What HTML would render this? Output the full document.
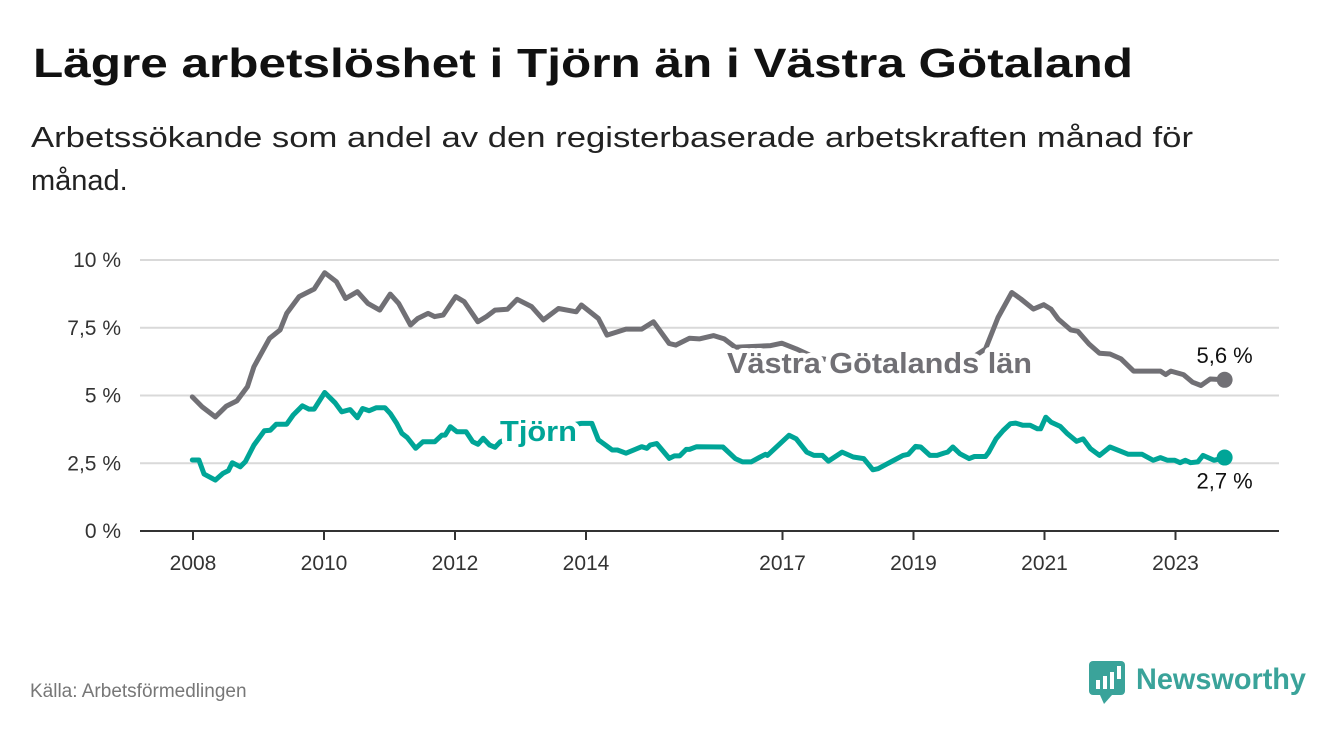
<!DOCTYPE html>
<html><head><meta charset="utf-8"><style>
html,body{margin:0;padding:0;background:#fff;}
svg{display:block;font-family:"Liberation Sans",sans-serif;}
</style></head><body>
<svg id="chart" width="1340" height="734" viewBox="0 0 1340 734">
<text x="33" y="77" font-size="41" font-weight="bold" fill="#111" textLength="1100" lengthAdjust="spacingAndGlyphs">Lägre arbetslöshet i Tjörn än i Västra Götaland</text>
<text x="31" y="147" font-size="29" fill="#222" textLength="1162" lengthAdjust="spacingAndGlyphs">Arbetssökande som andel av den registerbaserade arbetskraften månad för</text>
<text x="31" y="190" font-size="29" fill="#222">månad.</text>
<g id="grid"></g>
<g id="axes"></g>
<g id="series"></g>
<g id="labels"></g>
<text x="30" y="697" font-size="19" fill="#777">Källa: Arbetsförmedlingen</text>
<g>
<rect x="1089" y="661" width="36" height="34" rx="4" fill="#3aa39a"/>
<polygon points="1100,695 1112,695 1104,704" fill="#3aa39a"/>
<rect x="1096" y="680" width="4" height="9" fill="#fff"/><rect x="1103" y="676" width="4" height="13" fill="#fff"/><rect x="1110" y="672" width="4" height="17" fill="#fff"/><rect x="1117" y="666" width="4" height="13" fill="#fff"/>
<text x="1136" y="689" font-size="30" font-weight="bold" fill="#3aa39a" textLength="170" lengthAdjust="spacingAndGlyphs">Newsworthy</text>
</g>
</svg>
<script>
const yTicks = [0, 2.5, 5, 7.5, 10];
const yTickLabels = ["0 %", "2,5 %", "5 %", "7,5 %", "10 %"];
const xTicks = [2008, 2010, 2012, 2014, 2017, 2019, 2021, 2023];
const vgYears = [2007.99,2008.14,2008.34,2008.51,2008.67,2008.83,2008.93,2009.17,2009.33,2009.43,2009.62,2009.85,2010.01,2010.19,2010.33,2010.51,2010.67,2010.85,2011.01,2011.14,2011.32,2011.43,2011.59,2011.69,2011.82,2012.01,2012.14,2012.35,2012.48,2012.61,2012.8,2012.95,2013.17,2013.35,2013.58,2013.85,2013.93,2014.19,2014.32,2014.61,2014.85,2015.03,2015.27,2015.37,2015.58,2015.73,2015.95,2016.11,2016.28,2016.82,2016.99,2017.21,2017.5,2018,2018.5,2019,2019.5,2019.9,2020.1,2020.29,2020.5,2020.64,2020.83,2020.99,2021.1,2021.21,2021.4,2021.51,2021.68,2021.84,2022.0,2022.17,2022.36,2022.77,2022.85,2022.93,2023.12,2023.26,2023.39,2023.53,2023.75];
const vgValues = [4.95,4.58,4.21,4.61,4.8,5.32,6.06,7.11,7.42,8.03,8.65,8.93,9.53,9.2,8.58,8.83,8.4,8.15,8.74,8.4,7.6,7.84,8.03,7.91,7.97,8.65,8.46,7.72,7.91,8.15,8.18,8.55,8.28,7.79,8.21,8.09,8.34,7.84,7.23,7.45,7.45,7.72,6.92,6.86,7.11,7.09,7.21,7.09,6.78,6.84,6.93,6.72,6.4,6.2,6.1,6.1,6.2,6.4,6.72,7.88,8.8,8.56,8.19,8.35,8.19,7.82,7.42,7.37,6.9,6.56,6.53,6.35,5.9,5.9,5.77,5.9,5.77,5.49,5.37,5.61,5.58];
const tjYears = [2007.99,2008.09,2008.17,2008.34,2008.46,2008.54,2008.6,2008.72,2008.8,2008.93,2009.09,2009.18,2009.27,2009.43,2009.53,2009.67,2009.77,2009.85,2010.01,2010.17,2010.27,2010.4,2010.51,2010.59,2010.69,2010.8,2010.93,2011.01,2011.11,2011.19,2011.27,2011.4,2011.51,2011.69,2011.8,2011.85,2011.93,2012.03,2012.17,2012.27,2012.35,2012.43,2012.53,2012.61,2012.69,2012.9,2013.2,2013.5,2013.93,2014.09,2014.19,2014.3,2014.4,2014.48,2014.61,2014.85,2014.93,2014.98,2015.08,2015.27,2015.35,2015.43,2015.53,2015.58,2015.69,2016.09,2016.28,2016.39,2016.52,2016.66,2016.74,2016.77,2017.1,2017.21,2017.37,2017.48,2017.61,2017.7,2017.91,2018.08,2018.24,2018.38,2018.46,2018.84,2018.92,2019.03,2019.11,2019.25,2019.36,2019.47,2019.52,2019.6,2019.71,2019.85,2019.93,2020.1,2020.15,2020.26,2020.37,2020.48,2020.56,2020.67,2020.78,2020.89,2020.94,2021.02,2021.1,2021.24,2021.35,2021.49,2021.59,2021.7,2021.84,2022.0,2022.28,2022.49,2022.66,2022.77,2022.88,2022.99,2023.07,2023.15,2023.23,2023.34,2023.42,2023.59,2023.75];
const tjValues = [2.62,2.62,2.1,1.88,2.13,2.23,2.52,2.37,2.56,3.17,3.7,3.72,3.94,3.94,4.28,4.62,4.5,4.5,5.11,4.73,4.4,4.48,4.18,4.52,4.44,4.55,4.55,4.34,3.97,3.6,3.45,3.05,3.29,3.29,3.54,3.54,3.85,3.66,3.66,3.29,3.2,3.42,3.17,3.09,3.29,3.5,3.7,3.8,3.97,3.97,3.36,3.17,2.99,2.99,2.87,3.11,3.05,3.17,3.23,2.68,2.77,2.77,3.01,3.01,3.11,3.1,2.67,2.55,2.55,2.73,2.83,2.79,3.53,3.4,2.91,2.79,2.79,2.58,2.91,2.73,2.67,2.26,2.3,2.79,2.83,3.12,3.1,2.79,2.79,2.88,2.91,3.1,2.85,2.67,2.75,2.75,2.91,3.4,3.71,3.96,3.98,3.9,3.9,3.77,3.77,4.2,4.02,3.86,3.59,3.31,3.4,3.04,2.79,3.1,2.83,2.83,2.61,2.71,2.61,2.61,2.52,2.61,2.52,2.55,2.79,2.61,2.71];
const vgEndLabel = "5,6 %";
const tjEndLabel = "2,7 %";

const NS = "http://www.w3.org/2000/svg";
const xs = y => 193 + (y - 2008) * 65.5;
const ys = v => 531 - v * 27.1;
function mk(tag, attrs, parent){const e=document.createElementNS(NS,tag);for(const k in attrs)e.setAttribute(k,attrs[k]);parent.appendChild(e);return e;}
const grid=document.getElementById('grid'),axes=document.getElementById('axes'),series=document.getElementById('series'),labels=document.getElementById('labels');
yTicks.forEach((t,i)=>{
  if(t>0){const l=mk('line',{x1:140,x2:1279,y1:ys(t),y2:ys(t),stroke:'#d9d9d9','stroke-width':2},grid);
  
  }
  const tx=mk('text',{x:121,y:ys(t)+7,'font-size':21,fill:'#333','text-anchor':'end'},axes);
  tx.textContent=yTickLabels[i];
  
  
});
const ax=mk('line',{x1:140,x2:1279,y1:ys(0),y2:ys(0),stroke:'#333','stroke-width':2},axes);


xTicks.forEach(t=>{
  const tk=mk('line',{x1:xs(t),x2:xs(t),y1:ys(0),y2:ys(0)+9,stroke:'#333','stroke-width':2},axes);
  
  
  const tx=mk('text',{x:xs(t),y:570,'font-size':21,fill:'#333','text-anchor':'middle'},axes);
  tx.textContent=String(t);
  
  
});
function line(yrs,vals,color,name){
  const d=yrs.map((y,i)=>(i?'L':'M')+xs(y).toFixed(1)+','+ys(vals[i]).toFixed(1)).join('');
  const p=mk('path',{d:d,fill:'none',stroke:color,'stroke-width':5,'stroke-linejoin':'round','stroke-linecap':'round'},series);
  
  
  const n=yrs.length-1;
  const c=mk('circle',{cx:xs(yrs[n]),cy:ys(vals[n]),r:8,fill:color},series);
  
  
}
line(vgYears,vgValues,'#717075','vastra-gotaland');
line(tjYears,tjValues,'#00a597','tjorn');
function lab(x,y,txt,size,color,bold,name,halo){
  const a={x:x,y:y,'font-size':size,fill:color};
  if(bold)a['font-weight']='bold';
  if(halo){a.stroke='#fff';a['stroke-width']=10;a['paint-order']='stroke';a['stroke-linejoin']='round';}
  const t=mk('text',a,labels);t.textContent=txt;
  
  
  return t;
}
const vl=lab(727,373,'Västra Götalands län',29,'#717075',true,'vastra-gotaland-series-label',true);
vl.setAttribute('textLength','305');
vl.setAttribute('lengthAdjust','spacingAndGlyphs');
const tl=lab(500,441,'Tjörn',29,'#00a597',true,'tjorn-series-label',true);
tl.setAttribute('textLength','77');
tl.setAttribute('lengthAdjust','spacingAndGlyphs');
const n1=vgYears.length-1,n2=tjYears.length-1;
lab(xs(vgYears[n1]),ys(vgValues[n1])-17,vgEndLabel,22,'#111',false,'vastra-gotaland-end-value',false).setAttribute('text-anchor','middle');
lab(xs(tjYears[n2]),ys(tjValues[n2])+31,tjEndLabel,22,'#111',false,'tjorn-end-value',false).setAttribute('text-anchor','middle');
</script>
</body></html>
